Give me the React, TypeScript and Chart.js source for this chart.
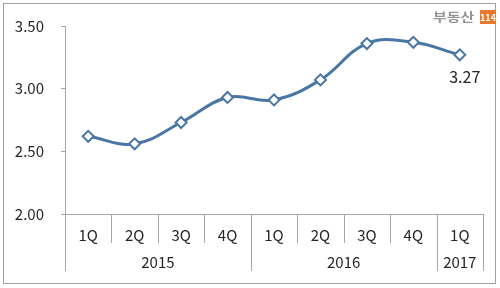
import React, { useEffect, useRef } from "react";
import { Chart, registerables } from "chart.js";

Chart.register(...registerables);

const quarters = ["1Q", "2Q", "3Q", "4Q", "1Q", "2Q", "3Q", "4Q", "1Q"];
const years = ["2015", "2016", "2017"];
const yearSpans = [4, 4, 1];
const values = [2.62, 2.56, 2.73, 2.93, 2.91, 3.07, 3.36, 3.37, 3.27];
const yTicks = [2.0, 2.5, 3.0, 3.5];
const lastLabel = "3.27";

const FONT = "'Noto Sans CJK KR', 'Noto Sans', sans-serif";
const AXIS = "#a6a6a6";
const TEXT = "#262626";
const LINE = "#4a76a5";

const decorPlugin = {
  id: "decor",
  beforeDraw(chart: any) {
    const ctx = chart.ctx;
    ctx.save();
    ctx.fillStyle = "#ffffff";
    ctx.fillRect(0, 0, chart.width, chart.height);
    ctx.strokeStyle = "#a0a0a0";
    ctx.lineWidth = 1;
    ctx.strokeRect(3.5, 3.5, 492, 280);
    ctx.restore();
  },
  afterDraw(chart: any) {
    const ctx = chart.ctx;
    const xs = chart.scales.x;
    const area = chart.chartArea;
    const n = quarters.length;
    const half = (xs.getPixelForValue(1) - xs.getPixelForValue(0)) / 2;
    const bottom = area.bottom;
    ctx.save();
    ctx.strokeStyle = AXIS;
    ctx.lineWidth = 1;
    // x axis line
    ctx.beginPath();
    ctx.moveTo(area.left - 4, Math.round(bottom) + 0.5);
    ctx.lineTo(xs.getPixelForValue(n - 1) + half, Math.round(bottom) + 0.5);
    ctx.stroke();
    // boundaries
    const yearBounds = new Set<number>();
    let acc = 0;
    yearBounds.add(0);
    yearSpans.forEach((s) => {
      acc += s;
      yearBounds.add(acc);
    });
    for (let i = 0; i <= n; i++) {
      const x = Math.round(xs.getPixelForValue(i) - half) + 0.5;
      const len = yearBounds.has(i) ? 57 : 29;
      ctx.beginPath();
      ctx.moveTo(x, bottom);
      ctx.lineTo(x, bottom + len);
      ctx.stroke();
    }
    // quarter labels
    ctx.fillStyle = TEXT;
    ctx.font = `15px ${FONT}`;
    ctx.textAlign = "center";
    ctx.textBaseline = "middle";
    quarters.forEach((q, i) => {
      ctx.fillText(q, xs.getPixelForValue(i), bottom + 21);
    });
    // year labels
    let start = 0;
    years.forEach((y, k) => {
      const end = start + yearSpans[k] - 1;
      const cx = (xs.getPixelForValue(start) + xs.getPixelForValue(end)) / 2;
      ctx.fillText(y, cx, bottom + 48);
      start += yearSpans[k];
    });
    // last value label
    const meta = chart.getDatasetMeta(0);
    const pt = meta.data[meta.data.length - 1];
    ctx.font = `16px ${FONT}`;
    ctx.fillText(lastLabel, pt.x + 5, pt.y + 22);
    // logo
    ctx.save();
    ctx.font = `bold 12px ${FONT}`;
    ctx.fillStyle = "#959595";
    ctx.textAlign = "left";
    ctx.translate(433, 17);
    ctx.scale(1.25, 1);
    ctx.fillText("부동산", 0, 0);
    ctx.restore();
    ctx.fillStyle = "#e8792b";
    ctx.fillRect(480, 10, 16, 14);
    ctx.fillStyle = "#ffffff";
    ctx.font = `bold 9px ${FONT}`;
    ctx.textAlign = "center";
    ctx.fillText("114", 488, 17.5);
    ctx.restore();
  },
};

export default function App() {
  const ref = useRef<HTMLCanvasElement>(null);
  useEffect(() => {
    if (!ref.current) return;
    const chart = new Chart(ref.current, {
      type: "line",
      data: {
        labels: quarters,
        datasets: [
          {
            data: values,
            borderColor: LINE,
            borderWidth: 3,
            tension: 0.4,
            cubicInterpolationMode: "default",
            pointStyle: "rectRot",
            pointRadius: 5.5,
            pointBorderWidth: 2,
            pointBackgroundColor: "#ffffff",
            pointBorderColor: LINE,
            fill: false,
          },
        ],
      },
      options: {
        responsive: false,
        animation: false,
        devicePixelRatio: 1,
        layout: { padding: { left: 0, top: 24, right: 17, bottom: 74 } },
        plugins: {
          legend: { display: false },
          tooltip: { enabled: false },
        },
        scales: {
          x: {
            type: "category",
            offset: true,
            display: false,
          },
          y: {
            min: 2,
            max: 3.5,
            afterFit(scale: any) {
              scale.width = 65;
            },
            afterBuildTicks(scale: any) {
              scale.ticks = yTicks.map((v) => ({ value: v }));
            },
            ticks: {
              padding: 17,
              color: TEXT,
              font: { family: FONT, size: 15 },
              callback: (v: any) => Number(v).toFixed(2),
            },
            grid: {
              drawOnChartArea: false,
              drawTicks: true,
              tickLength: 4,
              color: AXIS,
            },
            border: { display: true, color: AXIS },
          },
        },
      },
      plugins: [decorPlugin],
    } as any);
    return () => chart.destroy();
  }, []);
  return (
    <div style={{ position: "fixed", left: 0, top: 0, width: 500, height: 288, background: "#fff" }}>
      <canvas ref={ref} width={500} height={288} style={{ width: 500, height: 288, display: "block" }} />
    </div>
  );
}
